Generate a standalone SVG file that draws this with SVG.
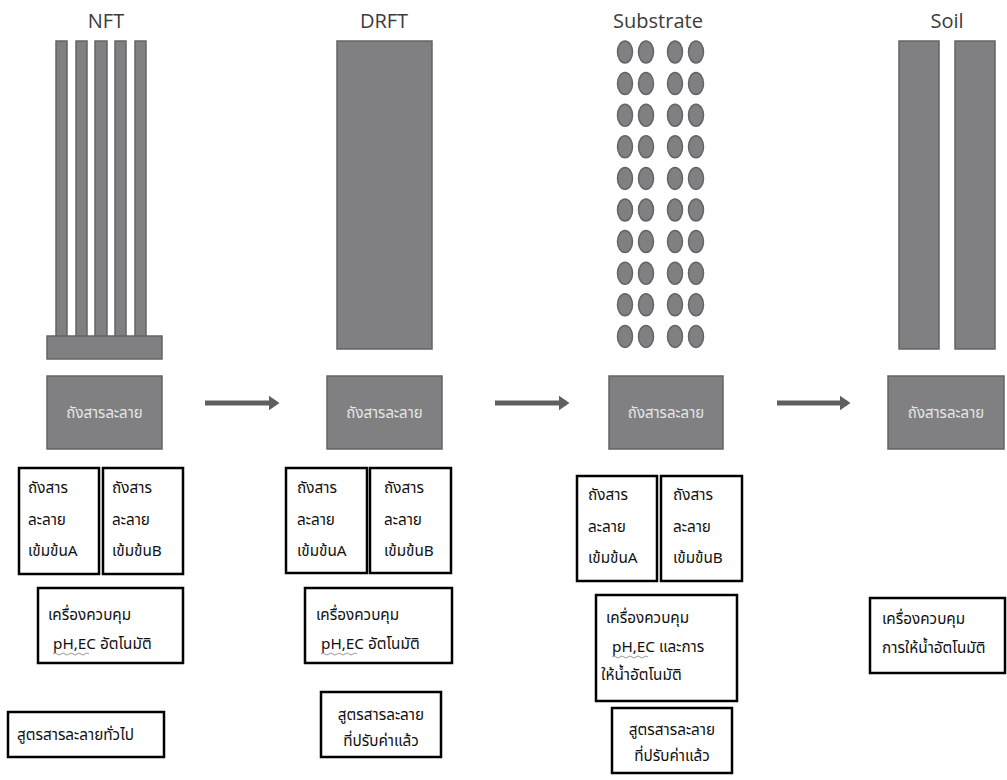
<svg xmlns="http://www.w3.org/2000/svg" width="1007" height="780" viewBox="0 0 1007 780">
<defs>
<style>
.g{fill:#808083;stroke:#646467;stroke-width:1.5}
.title{font-family:"Open Sans","Noto Sans",sans-serif;font-size:20px;fill:#3c3c3c;text-anchor:middle}
.tank{font-family:"Noto Sans Thai","Noto Sans","DejaVu Sans",sans-serif;font-size:15px;fill:#e6e6e6;text-anchor:middle}
.bx{fill:#fff;stroke:#000;stroke-width:2.5}
.t{font-family:"Noto Sans Thai","Noto Sans","DejaVu Sans",sans-serif;font-size:15.3px;fill:#111}
.wav{fill:none;stroke:#9a9a9a;stroke-width:1}
.arr{stroke:#5f5f62;stroke-width:5;fill:none}
</style>
<marker id="ah" markerWidth="4" markerHeight="4" refX="1.5" refY="2" orient="auto" markerUnits="strokeWidth">
<path d="M0,0.5 L2.2,2 L0,3.5 Z" fill="#5f5f62"/>
</marker>
</defs>
<rect width="1007" height="780" fill="#fff"/>

<g id="nft">
<text class="title" x="106" y="28">NFT</text>
<rect class="g" x="56" y="41" width="11" height="296"/>
<rect class="g" x="76" y="41" width="11" height="296"/>
<rect class="g" x="95" y="41" width="12" height="296"/>
<rect class="g" x="115" y="41" width="11" height="296"/>
<rect class="g" x="135" y="41" width="11" height="296"/>
<rect class="g" x="47" y="336" width="115" height="23"/>
</g>
<g id="nft-tank">
<rect class="g" x="47" y="376" width="115" height="73"/>
<text class="tank" x="104.5" y="418">ถังสารละลาย</text>
</g>
<g id="nft-a">
<rect class="bx" x="19" y="468" width="80" height="106"/>
<text class="t"><tspan x="28" y="493">ถังสาร</tspan><tspan x="28" y="525">ละลาย</tspan><tspan x="28" y="556">เข้มข้นA</tspan></text>
</g>
<g id="nft-b">
<rect class="bx" x="103" y="468" width="80" height="106"/>
<text class="t"><tspan x="112" y="493">ถังสาร</tspan><tspan x="112" y="525">ละลาย</tspan><tspan x="112" y="556">เข้มข้นB</tspan></text>
</g>
<g id="nft-ctrl">
<rect class="bx" x="38" y="588" width="145" height="75"/>
<text class="t"><tspan x="48" y="620">เครื่องควบคุม</tspan><tspan x="53" y="649">pH,EC อัตโนมัติ</tspan></text>
<path class="wav" d="M53,654 q2,-2 4,0 t4,0 t4,0 t4,0 t4,0 t4,0 t4,0 t4,0 t4,0"/>
</g>
<g id="nft-formula">
<rect class="bx" x="8" y="712" width="156" height="45"/>
<text class="t" x="17" y="740">สูตรสารละลายทั่วไป</text>
</g>

<g id="drft">
<text class="title" x="384" y="28">DRFT</text>
<rect class="g" x="337" y="41" width="95" height="308"/>
</g>
<g id="drft-tank">
<rect class="g" x="327" y="376" width="115" height="73"/>
<text class="tank" x="384.5" y="418">ถังสารละลาย</text>
</g>
<g id="drft-a">
<rect class="bx" x="286" y="468" width="81" height="105"/>
<text class="t"><tspan x="297" y="493">ถังสาร</tspan><tspan x="297" y="525">ละลาย</tspan><tspan x="297" y="556">เข้มข้นA</tspan></text>
</g>
<g id="drft-b">
<rect class="bx" x="370" y="468" width="81" height="105"/>
<text class="t"><tspan x="384" y="493">ถังสาร</tspan><tspan x="384" y="525">ละลาย</tspan><tspan x="384" y="556">เข้มข้นB</tspan></text>
</g>
<g id="drft-ctrl">
<rect class="bx" x="305" y="588" width="147" height="75"/>
<text class="t"><tspan x="316" y="620">เครื่องควบคุม</tspan><tspan x="321" y="649">pH,EC อัตโนมัติ</tspan></text>
<path class="wav" d="M321,654 q2,-2 4,0 t4,0 t4,0 t4,0 t4,0 t4,0 t4,0 t4,0 t4,0"/>
</g>
<g id="drft-formula">
<rect class="bx" x="321" y="692" width="120" height="65"/>
<text class="t" text-anchor="middle"><tspan x="381" y="720">สูตรสารละลาย</tspan><tspan x="381" y="746">ที่ปรับค่าแล้ว</tspan></text>
</g>

<g id="substrate">
<text class="title" x="658" y="28">Substrate</text>
<g fill="#808083" stroke="#646467" stroke-width="1.5">
<g id="row"><ellipse cx="625" cy="52" rx="7.5" ry="11"/><ellipse cx="646" cy="52" rx="7.5" ry="11"/><ellipse cx="675" cy="52" rx="7.5" ry="11"/><ellipse cx="696" cy="52" rx="7.5" ry="11"/></g>
<use href="#row" y="31.6"/>
<use href="#row" y="63.2"/>
<use href="#row" y="94.8"/>
<use href="#row" y="126.4"/>
<use href="#row" y="158"/>
<use href="#row" y="189.6"/>
<use href="#row" y="221.2"/>
<use href="#row" y="252.8"/>
<use href="#row" y="284.4"/>
</g>
</g>
<g id="sub-tank">
<rect class="g" x="609" y="376" width="114" height="73"/>
<text class="tank" x="666" y="418">ถังสารละลาย</text>
</g>
<g id="sub-a">
<rect class="bx" x="577" y="476" width="80" height="105"/>
<text class="t"><tspan x="588" y="500">ถังสาร</tspan><tspan x="588" y="532">ละลาย</tspan><tspan x="588" y="563">เข้มข้นA</tspan></text>
</g>
<g id="sub-b">
<rect class="bx" x="661" y="476" width="81" height="105"/>
<text class="t"><tspan x="673" y="500">ถังสาร</tspan><tspan x="673" y="532">ละลาย</tspan><tspan x="673" y="563">เข้มข้นB</tspan></text>
</g>
<g id="sub-ctrl">
<rect class="bx" x="596" y="595" width="141" height="106"/>
<text class="t"><tspan x="606" y="623">เครื่องควบคุม</tspan><tspan x="612" y="652">pH,EC และการ</tspan><tspan x="601" y="680">ให้น้ำอัตโนมัติ</tspan></text>
<path class="wav" d="M612,657 q2,-2 4,0 t4,0 t4,0 t4,0 t4,0 t4,0 t4,0 t4,0 t4,0"/>
</g>
<g id="sub-formula">
<rect class="bx" x="612" y="708" width="120" height="65"/>
<text class="t" text-anchor="middle"><tspan x="672" y="735">สูตรสารละลาย</tspan><tspan x="672" y="761">ที่ปรับค่าแล้ว</tspan></text>
</g>

<g id="soil">
<text class="title" x="947" y="28">Soil</text>
<rect class="g" x="899" y="41" width="40" height="308"/>
<rect class="g" x="955" y="41" width="40" height="308"/>
</g>
<g id="soil-tank">
<rect class="g" x="888" y="376" width="116" height="73"/>
<text class="tank" x="946" y="418">ถังสารละลาย</text>
</g>
<g id="soil-ctrl">
<rect class="bx" x="870" y="598" width="135" height="75"/>
<text class="t"><tspan x="882" y="624">เครื่องควบคุม</tspan><tspan x="882" y="653">การให้น้ำอัตโนมัติ</tspan></text>
</g>

<g id="connectors">
<line class="arr" x1="205" y1="403" x2="276" y2="403" marker-end="url(#ah)"/>
<line class="arr" x1="495" y1="403" x2="566" y2="403" marker-end="url(#ah)"/>
<line class="arr" x1="777" y1="403" x2="847" y2="403" marker-end="url(#ah)"/>
</g>
</svg>
